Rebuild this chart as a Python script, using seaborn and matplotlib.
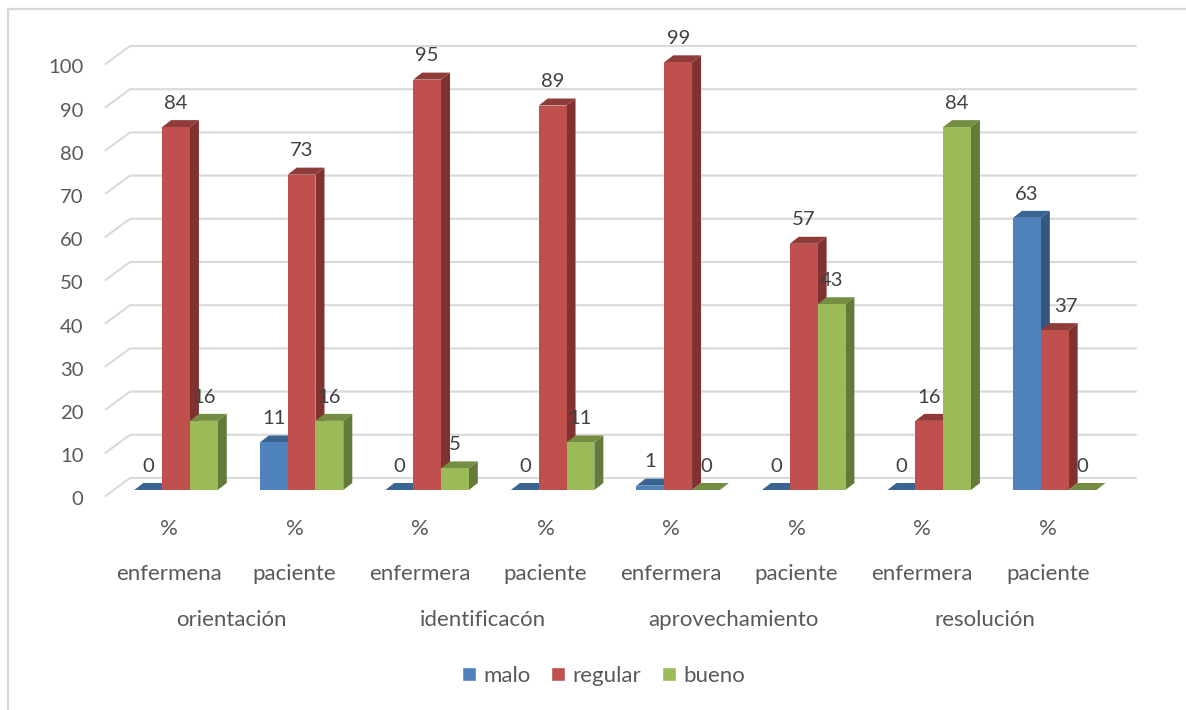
import pandas as pd
import matplotlib
matplotlib.use("Agg")
import matplotlib.pyplot as plt
import seaborn as sns
from matplotlib.lines import Line2D
from matplotlib.patches import Patch, Polygon, Rectangle
from matplotlib.transforms import IdentityTransform, ScaledTranslation

# values
groups = ["orientación", "identificacón", "aprovechamiento", "resolución"]
roles = ["enfermena", "paciente", "enfermera", "paciente",
         "enfermera", "paciente", "enfermera", "paciente"]
malo = [0, 11, 0, 0, 1, 0, 0, 63]
regular = [84, 73, 95, 89, 99, 57, 16, 37]
bueno = [16, 16, 5, 11, 0, 43, 84, 0]
y_ticks = [0, 10, 20, 30, 40, 50, 60, 70, 80, 90, 100]

# front, top, side colour of each series
colors = {"malo": ("#4F81BD", "#3A6491", "#34567F"),
          "regular": ("#C0504D", "#8F3B39", "#7F3230"),
          "bueno": ("#9BBB59", "#748D42", "#647A39")}

W, H = 1186, 710
grid_c = "#D9D9D9"
text_c = "#595959"
label_c = "#404040"
digit_size = 14.6
word_size = 16

sns.set_theme(style="white")
plt.rcParams["font.family"] = ["Lato", "DejaVu Sans"]

rows = []
for i, role in enumerate(roles):
    key = f"{i}-{role}"
    rows.append((key, "malo", malo[i]))
    rows.append((key, "regular", regular[i]))
    rows.append((key, "bueno", bueno[i]))
df = pd.DataFrame(rows, columns=["cat", "serie", "valor"])

fig = plt.figure(figsize=(W / 100, H / 100), dpi=100, facecolor="white")
# axes placed so that y=0 sits at pixel row 490 and 100 at row 58
ax = fig.add_axes([113.25 / W, (H - 490) / H, 1004.25 / W, 432 / H])
ax.patch.set_alpha(0)

sns.barplot(data=df, x="cat", y="valor", hue="serie", palette={k: v[0] for k, v in colors.items()},
            width=0.665, saturation=1, legend=False, ax=ax, zorder=3)
ax.set_xlim(-0.5, 7.5)
ax.set_ylim(0, 100)
ax.set_xlabel("")
ax.set_ylabel("")
sns.despine(ax=ax, left=True, bottom=True)

# chart frame, open on the right and at the bottom like the screenshot crop
fig.add_artist(Rectangle((8 / W, -0.1), 1.2, 1.1 - 9 / H, transform=fig.transFigure,
                         fill=False, edgecolor=grid_c, linewidth=1.6, zorder=-5))

# back wall gridlines with the little diagonal on the left
for v in y_ticks:
    y0 = ax.transData.transform((0, v))[1]
    ax.add_line(Line2D([105.5, 130, 1136], [y0 - 6, y0 + 12, y0 + 12], color=grid_c, lw=1.5,
                       transform=IdentityTransform(), clip_on=False, zorder=1,
                       solid_joinstyle="miter"))

# fake 3d depth on every bar
dx, dy = 9, 7
for cont, name in zip(ax.containers, colors):
    front, top, side = colors[name]
    for bar in cont:
        bar.set_linewidth(0)
        (x0, y0), (x1, y1) = ax.transData.transform(bar.get_bbox().get_points())
        z = 3 + bar.get_x()
        bar.set_zorder(z + 0.02)
        ax.add_patch(Polygon([(x0, y1), (x1, y1), (x1 + dx, y1 + dy), (x0 + dx, y1 + dy)],
                             facecolor=top, edgecolor="none", transform=IdentityTransform(),
                             clip_on=False, zorder=z))
        if y1 > y0:
            ax.add_patch(Polygon([(x1, y0), (x1 + dx, y0 + dy), (x1 + dx, y1 + dy), (x1, y1)],
                                 facecolor=side, edgecolor="none", transform=IdentityTransform(),
                                 clip_on=False, zorder=z))
    labels = ax.bar_label(cont, fmt="%d", padding=11, fontsize=digit_size, color=label_c, zorder=20)
    # the "37" sits off to the right of its bar in the original
    if name == "regular":
        labels[7].set_x(labels[7].get_position()[0])
        labels[7].xyann = (8, 11)

# y tick labels
ax.set_yticks(y_ticks)
ax.tick_params(axis="y", length=0, pad=21.5, labelsize=digit_size, labelcolor=text_c)
shift = ScaledTranslation(0, -6 / 72, fig.dpi_scale_trans)
for t in ax.get_yticklabels():
    t.set_transform(t.get_transform() + shift)

# three levels of category labels
centers = [i - 7 / 125.5 for i in range(len(roles))]
ax.set_xticks(centers)
ax.set_xticklabels(["%"] * len(roles))
ax.tick_params(axis="x", length=0, pad=21, labelsize=word_size, labelcolor=text_c)
trans = ax.get_xaxis_transform()
for c, role in zip(centers, roles):
    ax.annotate(role, (c, 0), xycoords=trans, xytext=(0, -60.5), textcoords="offset points",
                ha="center", va="center", fontsize=word_size, color=text_c)
for j, g in enumerate(groups):
    c = (centers[2 * j] + centers[2 * j + 1]) / 2
    ax.annotate(g, (c, 0), xycoords=trans, xytext=(0, -93.5), textcoords="offset points",
                ha="center", va="center", fontsize=word_size, color=text_c)

handles = [Patch(facecolor=v[0], label=k) for k, v in colors.items()]
fig.legend(handles=handles, loc="center", bbox_to_anchor=(603.5 / W, (H - 676) / H), ncol=3,
           frameon=False, fontsize=word_size, labelcolor=text_c, handlelength=0.63, handleheight=0.63,
           handletextpad=0.35, columnspacing=0.9)

fig.savefig("out.png", dpi=100, facecolor="white")
